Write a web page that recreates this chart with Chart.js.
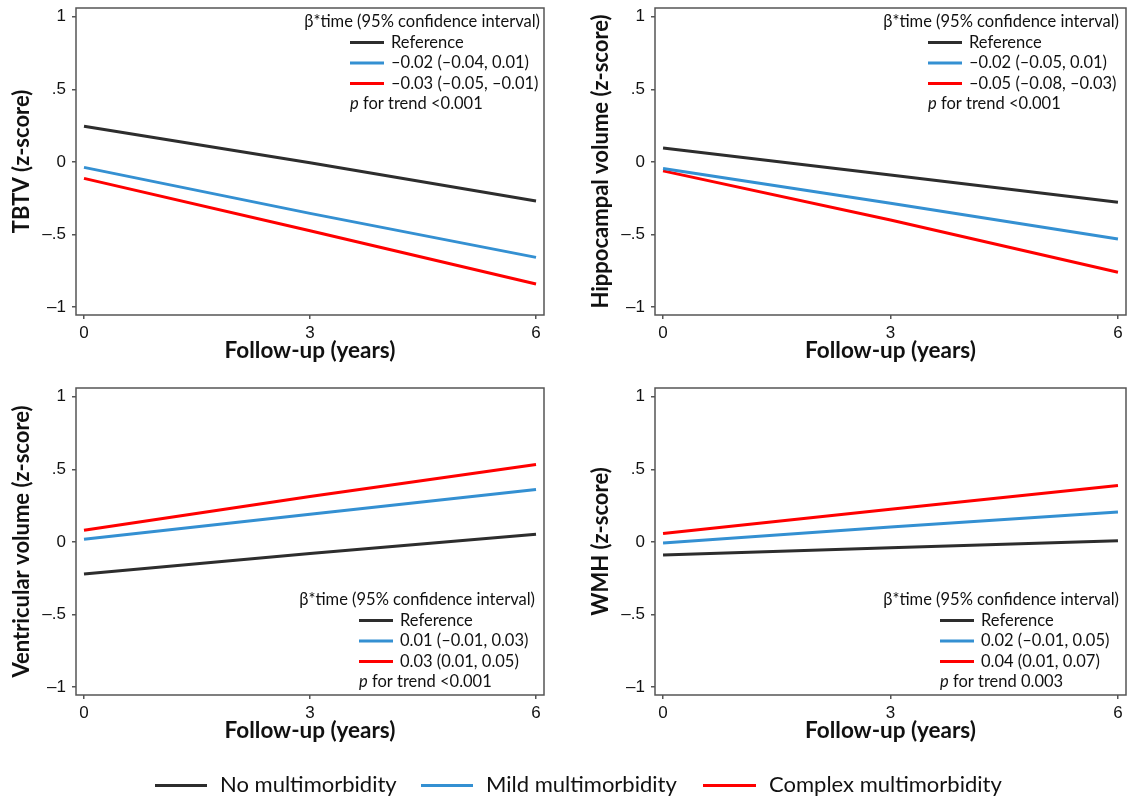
<!DOCTYPE html>
<html>
<head>
<meta charset="utf-8">
<script src="https://cdn.jsdelivr.net/npm/chart.js@4.4.1/dist/chart.umd.min.js"></script>
<style>
  body { margin: 0; background: #fff; width: 1129px; height: 797px; overflow: hidden; position: relative; font-family: Lato, sans-serif; }
  canvas.panel { position: absolute; left: -30px; top: -30px; }
  .key { position: absolute; height: 3px; top: 784px; }
  .lab { position: absolute; top: 770px; font-size: 22px; color: #111; line-height: 28px; }
</style>
</head>
<body>
<canvas id="c0" class="panel" width="1189" height="857"></canvas>
<canvas id="c1" class="panel" width="1189" height="857"></canvas>
<canvas id="c2" class="panel" width="1189" height="857"></canvas>
<canvas id="c3" class="panel" width="1189" height="857"></canvas>

<div class="key" style="left:155px;width:52px;background:#2d2d2d"></div>
<div class="lab" style="left:220px">No multimorbidity</div>
<div class="key" style="left:421px;width:52px;background:#3490d2"></div>
<div class="lab" style="left:486px">Mild multimorbidity</div>
<div class="key" style="left:703px;width:53px;background:#ff0000"></div>
<div class="lab" style="left:769px">Complex multimorbidity</div>

<script>
// data (z-score at 0, 3, 6 years)
const years = [0, 3, 6];
const xTicks = [0, 3, 6];
const yTicks = [-1, -0.5, 0, 0.5, 1];
const yTickLabels = ['–1', '–.5', '0', '.5', '1'];
const colors = ['#2d2d2d', '#3490d2', '#ff0000'];
const groupNames = ['No multimorbidity', 'Mild multimorbidity', 'Complex multimorbidity'];

const tbtvNone = [0.246, -0.006, -0.27];
const tbtvMild = [-0.038, -0.355, -0.658];
const tbtvComplex = [-0.114, -0.474, -0.842];

const hippoNone = [0.096, -0.091, -0.278];
const hippoMild = [-0.045, -0.285, -0.532];
const hippoComplex = [-0.062, -0.40, -0.761];

const ventNone = [-0.222, -0.08, 0.053];
const ventMild = [0.018, 0.19, 0.361];
const ventComplex = [0.08, 0.313, 0.533];

const wmhNone = [-0.091, -0.041, 0.007];
const wmhMild = [-0.007, 0.103, 0.206];
const wmhComplex = [0.057, 0.224, 0.389];

const tbtvBeta = ['Reference', '–0.02 (–0.04, 0.01)', '–0.03 (–0.05, –0.01)'];
const hippoBeta = ['Reference', '–0.02 (–0.05, 0.01)', '–0.05 (–0.08, –0.03)'];
const ventBeta = ['Reference', '0.01 (–0.01, 0.03)', '0.03 (0.01, 0.05)'];
const wmhBeta = ['Reference', '0.02 (–0.01, 0.05)', '0.04 (0.01, 0.07)'];
const trendP = ['<0.001', '<0.001', '<0.001', '0.003'];

// panel boxes in page pixels
const panels = [
  { id: 'c0', title: 'TBTV (z-score)', series: [tbtvNone, tbtvMild, tbtvComplex], beta: tbtvBeta, p: trendP[0],
    box: [76, 544, 8, 315], legendPos: 'top', keyOff: 194, titleInset: 4 },
  { id: 'c1', title: 'Hippocampal volume (z-score)', series: [hippoNone, hippoMild, hippoComplex], beta: hippoBeta, p: trendP[1],
    box: [655, 1126, 8, 315], legendPos: 'top', keyOff: 198, titleInset: 7 },
  { id: 'c2', title: 'Ventricular volume (z-score)', series: [ventNone, ventMild, ventComplex], beta: ventBeta, p: trendP[2],
    box: [76, 544, 388, 695], legendPos: 'bottom', keyOff: 185, titleInset: 9 },
  { id: 'c3', title: 'WMH (z-score)', series: [wmhNone, wmhMild, wmhComplex], beta: wmhBeta, p: trendP[3],
    box: [655, 1126, 388, 695], legendPos: 'bottom', keyOff: 186, titleInset: 7 }
];

const OFF = 30, CW = 1189, CH = 857;
const legendFont = 16.5;

// box round the plot area
const frame = {
  id: 'frame',
  beforeDatasetsDraw(chart) {
    const { ctx, chartArea: a } = chart;
    ctx.save();
    ctx.strokeStyle = '#555';
    ctx.lineWidth = 1.5;
    ctx.strokeRect(a.left, a.top, a.right - a.left, a.bottom - a.top);
    ctx.restore();
  }
};

// the beta*time legend inside each panel
const panelLegend = {
  id: 'panelLegend',
  afterDatasetsDraw(chart, args, opts) {
    const { ctx, chartArea: a } = chart;
    const rowH = 20.5;
    const y0 = opts.pos === 'top' ? a.top + 14 : a.bottom - 13 - 4 * rowH;
    const keyX = a.right - opts.keyOff;
    ctx.save();
    ctx.fillStyle = '#111';
    ctx.textBaseline = 'middle';
    ctx.font = legendFont + 'px Lato';
    ctx.textAlign = 'right';
    ctx.fillText('β*time (95% confidence interval)', a.right - opts.titleInset, y0);
    ctx.textAlign = 'left';
    opts.rows.forEach((txt, i) => {
      const y = y0 + rowH * (i + 1);
      ctx.strokeStyle = colors[i];
      ctx.lineWidth = 3;
      ctx.beginPath();
      ctx.moveTo(keyX, y);
      ctx.lineTo(keyX + 34, y);
      ctx.stroke();
      ctx.fillText(txt, keyX + 41, y);
    });
    const yp = y0 + rowH * 4;
    ctx.font = 'italic ' + legendFont + 'px Lato';
    ctx.fillText('p', keyX, yp);
    const pw = ctx.measureText('p').width;
    ctx.font = legendFont + 'px Lato';
    ctx.fillText(' for trend ' + opts.p, keyX + pw, yp);
    ctx.restore();
  }
};

panels.forEach(pn => {
  const [L, R, T, B] = pn.box;
  new Chart(document.getElementById(pn.id), {
    type: 'line',
    data: {
      datasets: pn.series.map((vals, i) => ({
        label: groupNames[i],
        data: years.map((x, j) => ({ x: x, y: vals[j] })),
        borderColor: colors[i],
        borderWidth: 3,
        pointRadius: 0,
        tension: 0,
        fill: false
      }))
    },
    options: {
      responsive: false,
      animation: false,
      events: [],
      layout: { padding: { left: L + OFF - 75, top: T + OFF, right: CW - (R + OFF), bottom: CH - (B + OFF) - 60 } },
      plugins: {
        legend: { display: false },
        tooltip: { enabled: false },
        panelLegend: { pos: pn.legendPos, keyOff: pn.keyOff, titleInset: pn.titleInset, rows: pn.beta, p: pn.p }
      },
      scales: {
        x: {
          type: 'linear', min: -0.106, max: 6.106,
          afterBuildTicks: s => { s.ticks = xTicks.map(v => ({ value: v })); },
          afterFit: s => { s.height = 60; },
          grid: { display: true, drawOnChartArea: false, drawTicks: true, tickLength: 4, color: '#555', lineWidth: 1.5 },
          border: { display: false },
          ticks: { padding: 4, color: '#111', maxRotation: 0, font: { family: '"Liberation Sans", Arial, sans-serif', size: 17 } },
          title: { display: true, text: 'Follow-up (years)', color: '#111', font: { family: 'Lato', size: 22.5, weight: 'bold' }, padding: { top: 0, bottom: 11 } }
        },
        y: {
          type: 'linear', min: -1.055, max: 1.06,
          afterBuildTicks: s => { s.ticks = yTicks.map(v => ({ value: v })); },
          afterFit: s => { s.width = 75; },
          grid: { display: true, drawOnChartArea: false, drawTicks: true, tickLength: 4, color: '#555', lineWidth: 1.5 },
          border: { display: false },
          ticks: { padding: 6, color: '#111', callback: (v, i) => yTickLabels[i], font: { family: '"Liberation Sans", Arial, sans-serif', size: 17 } },
          title: { display: true, text: pn.title, color: '#111', font: { family: 'Lato', size: 22, weight: 'bold' }, padding: { top: 8, bottom: 0 } }
        }
      }
    },
    plugins: [frame, panelLegend]
  });
});
</script>
</body>
</html>
